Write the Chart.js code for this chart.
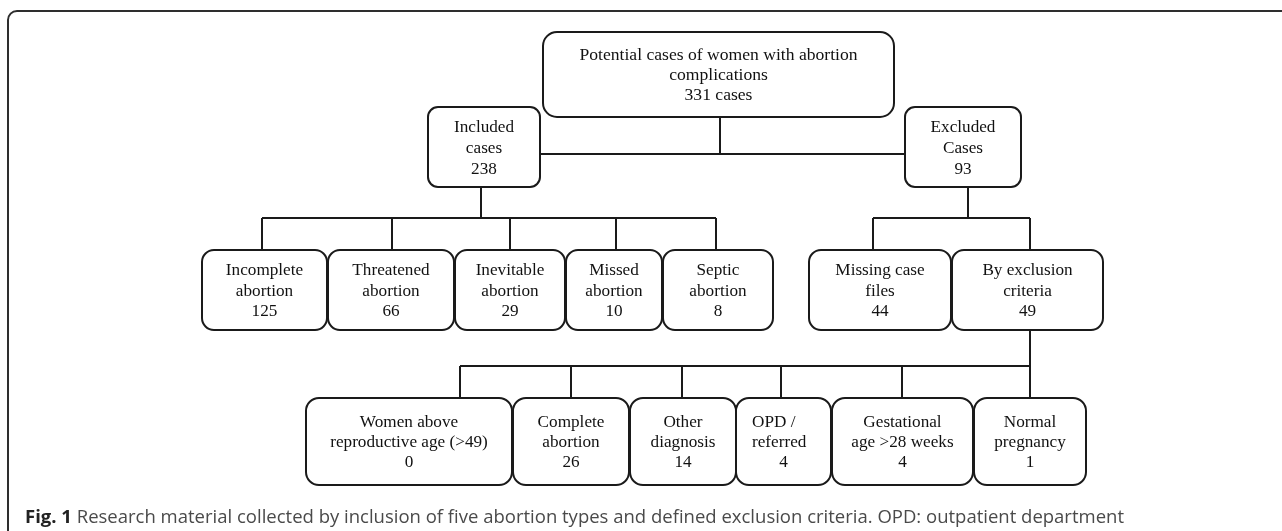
<!DOCTYPE html>
<html>
<head>
<meta charset="utf-8">
<script src="https://cdn.jsdelivr.net/npm/chart.js@4.4.1/dist/chart.umd.min.js"></script>
<style>
  body { margin: 0; background: #fff; }
  #wrap { position: relative; width: 1282px; height: 531px; overflow: hidden; }
  #caption { position: absolute; left: 25px; top: 503px; font-family: 'Open Sans', 'Noto Sans', sans-serif; font-size: 18.5px; line-height: 25px; color: #4a4a4a; white-space: nowrap; }
  #caption b { color: #222; }
</style>
</head>
<body>
<div id="wrap">
  <canvas id="flow" width="1282" height="531"></canvas>
  <div id="caption"><b>Fig. 1</b> Research material collected by inclusion of five abortion types and defined exclusion criteria. OPD: outpatient department</div>
</div>
<script>
// flow chart data (labels + case counts)
const topLabel = ['Potential cases of women with abortion', 'complications'];
const totalCases = 331;
const groupNames = [['Included', 'cases'], ['Excluded', 'Cases']];
const groupCounts = [238, 93];
const abortionTypes = [['Incomplete', 'abortion'], ['Threatened', 'abortion'], ['Inevitable', 'abortion'], ['Missed', 'abortion'], ['Septic', 'abortion']];
const abortionCounts = [125, 66, 29, 10, 8];
const excludedReasons = [['Missing case', 'files'], ['By exclusion', 'criteria']];
const excludedCounts = [44, 49];
const criteria = [['Women above', 'reproductive age (>49)'], ['Complete', 'abortion'], ['Other', 'diagnosis'], ['OPD /', 'referred'], ['Gestational', 'age >28 weeks'], ['Normal', 'pregnancy']];
const criteriaCounts = [0, 26, 14, 4, 4, 1];

// layout (in chart units, 0..1282 x 0..531)
const rowTop = [32, 107, 250, 398];
const rowBottom = [117, 187, 330, 485];
const rowLineGap = [20, 21, 20.5, 20];
const topBoxX = [543, 894];
const groupBoxX = [[428, 540], [905, 1021]];
const abortionBoxX = [[202, 327], [328, 454], [455, 565], [566, 662], [663, 773]];
const excludedBoxX = [[809, 951], [952, 1103]];
const criteriaBoxX = [[306, 512], [513, 629], [630, 736], [736, 831], [832, 973], [974, 1086]];
const abortionStubX = [262, 392, 510, 616, 716];
const excludedStubX = [873, 1030];
const criteriaStubX = [460, 571, 682, 781, 902, 1030];

// build the node list
const nodes = [];
nodes.push({ x: topBoxX, row: 0, lines: [...topLabel, totalCases + ' cases'], r: 14 });
groupNames.forEach((n, i) => nodes.push({ x: groupBoxX[i], row: 1, lines: [...n, String(groupCounts[i])], r: 10 }));
abortionTypes.forEach((n, i) => nodes.push({ x: abortionBoxX[i], row: 2, lines: [...n, String(abortionCounts[i])], r: 12 }));
excludedReasons.forEach((n, i) => nodes.push({ x: excludedBoxX[i], row: 2, lines: [...n, String(excludedCounts[i])], r: 12 }));
criteria.forEach((n, i) => nodes.push({ x: criteriaBoxX[i], row: 3, lines: [...n, String(criteriaCounts[i])], r: 13, leftAt: i === 3 ? 752 : null }));

// connector segments
const segs = [];
const seg = (x1, y1, x2, y2) => segs.push([{ x: x1, y: y1 }, { x: x2, y: y2 }]);
seg(720, rowBottom[0], 720, 154);
seg(groupBoxX[0][1], 154, groupBoxX[1][0], 154);
seg(481, rowBottom[1], 481, 218);
seg(abortionStubX[0], 218, abortionStubX[abortionStubX.length - 1], 218);
abortionStubX.forEach(x => seg(x, 218, x, rowTop[2]));
seg(968, rowBottom[1], 968, 218);
seg(excludedStubX[0], 218, excludedStubX[1], 218);
excludedStubX.forEach(x => seg(x, 218, x, rowTop[2]));
seg(1030, rowBottom[2], 1030, 366);
seg(criteriaStubX[0], 366, criteriaStubX[criteriaStubX.length - 1], 366);
criteriaStubX.forEach(x => seg(x, 366, x, rowTop[3]));

const boxPlugin = {
  id: 'boxes',
  afterDatasetsDraw(chart) {
    const ctx = chart.ctx;
    const sx = chart.scales.x, sy = chart.scales.y;
    ctx.save();
    // outer frame
    ctx.strokeStyle = '#2e2e2e';
    ctx.lineWidth = 2;
    ctx.beginPath();
    ctx.moveTo(sx.getPixelForValue(8), sy.getPixelForValue(531));
    ctx.lineTo(sx.getPixelForValue(8), sy.getPixelForValue(20));
    ctx.arcTo(sx.getPixelForValue(8), sy.getPixelForValue(11), sx.getPixelForValue(17), sy.getPixelForValue(11), 9);
    ctx.lineTo(sx.getPixelForValue(1282), sy.getPixelForValue(11));
    ctx.stroke();

    ctx.strokeStyle = '#1a1a1a';
    ctx.textBaseline = 'middle';
    nodes.forEach(n => {
      const x0 = sx.getPixelForValue(n.x[0]), x1 = sx.getPixelForValue(n.x[1]);
      const y0 = sy.getPixelForValue(rowTop[n.row]), y1 = sy.getPixelForValue(rowBottom[n.row]);
      ctx.fillStyle = '#fff';
      ctx.beginPath();
      ctx.roundRect(x0, y0, x1 - x0, y1 - y0, n.r);
      ctx.fill();
      ctx.stroke();
      ctx.fillStyle = '#111';
      ctx.font = (n.row === 0 ? '17.6px' : '17.2px') + ' "Liberation Serif", "DejaVu Serif", serif';
      const cx = (x0 + x1) / 2, cy = (y0 + y1) / 2;
      const lh = rowLineGap[n.row];
      n.lines.forEach((t, k) => {
        const ty = cy + (k - (n.lines.length - 1) / 2) * lh + 1;
        if (n.leftAt && k < 2) {
          ctx.textAlign = 'left';
          ctx.fillText(t, sx.getPixelForValue(n.leftAt), ty);
        } else {
          ctx.textAlign = 'center';
          ctx.fillText(t, cx, ty);
        }
      });
    });
    ctx.restore();
  }
};

new Chart(document.getElementById('flow'), {
  type: 'scatter',
  data: {
    datasets: segs.map(s => ({ data: s, showLine: true, pointRadius: 0, borderColor: '#1a1a1a', borderWidth: 2 }))
  },
  options: {
    responsive: false,
    animation: false,
    events: [],
    layout: { padding: 0 },
    scales: {
      x: { type: 'linear', min: 0, max: 1282, display: false },
      y: { type: 'linear', min: 0, max: 531, reverse: true, display: false }
    },
    plugins: { legend: { display: false }, tooltip: { enabled: false } }
  },
  plugins: [boxPlugin]
});
</script>
</body>
</html>
